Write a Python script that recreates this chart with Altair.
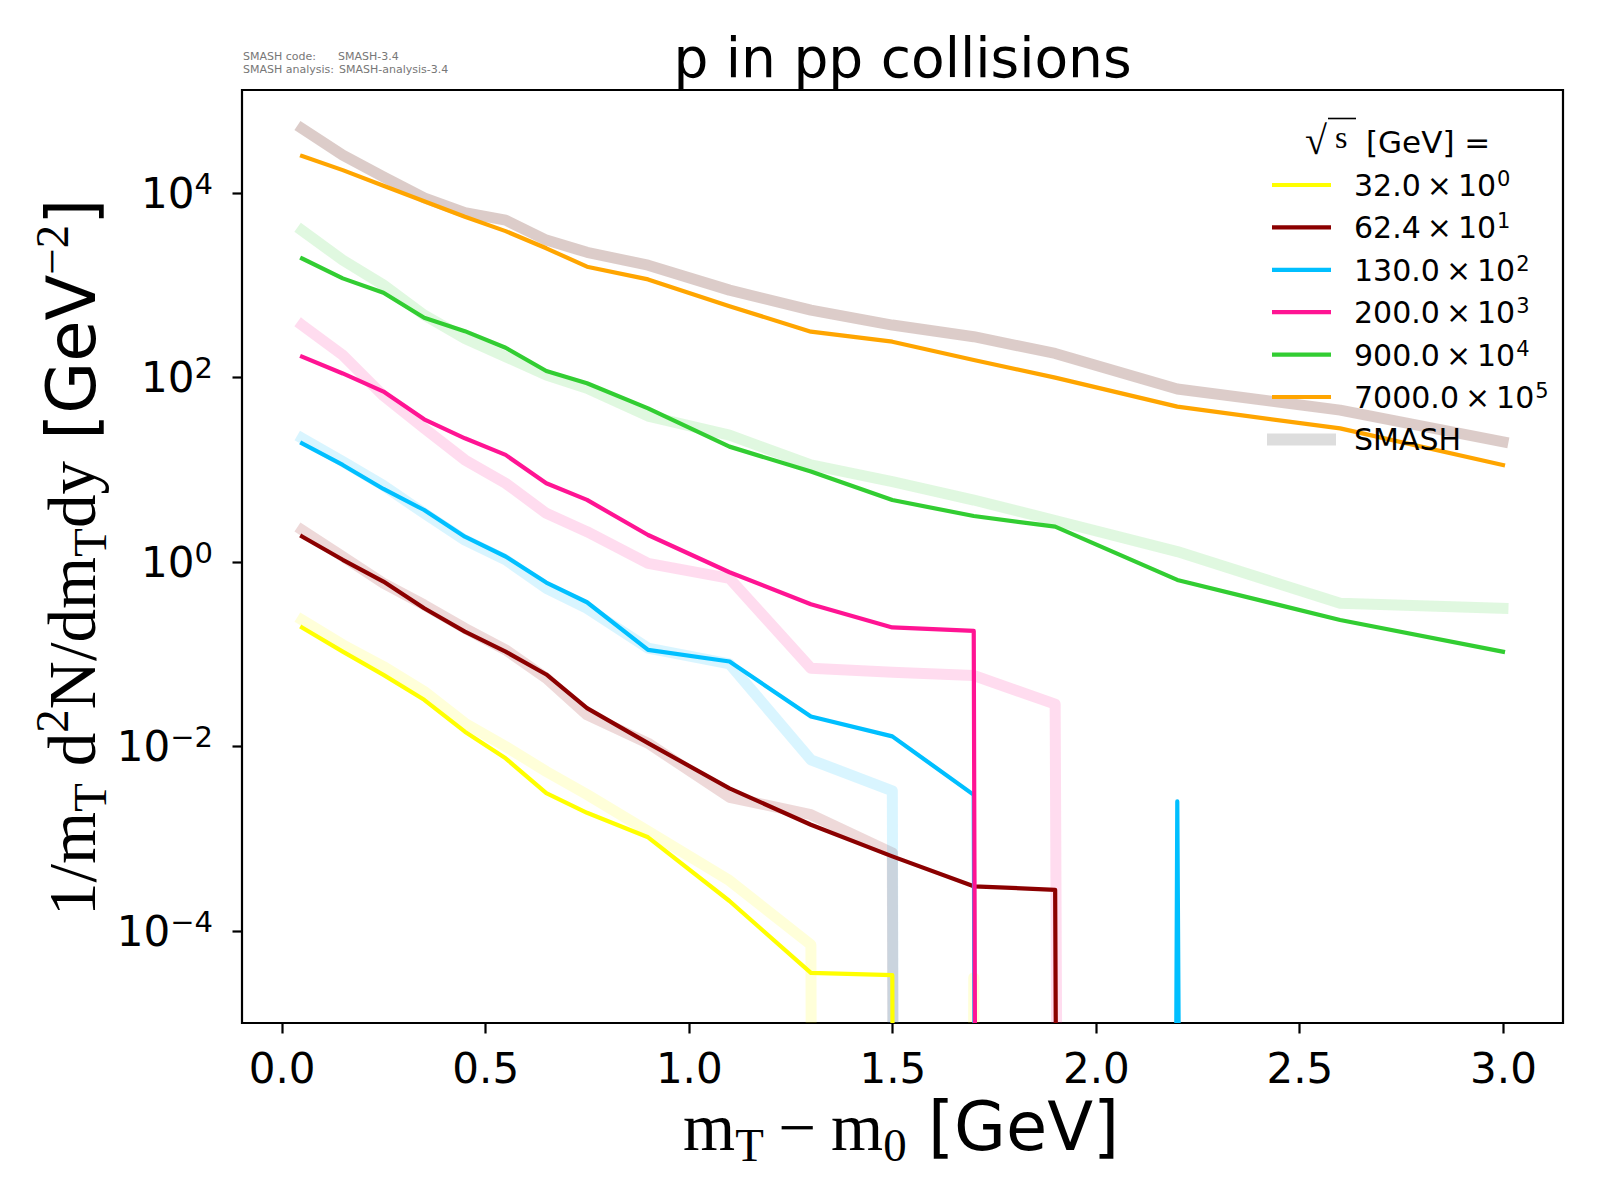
import altair as alt
import pandas as pd

# m_T - m_0 bin centres [GeV]
X = [0.05, 0.15, 0.25, 0.35, 0.45, 0.55, 0.65, 0.75, 0.9, 1.1, 1.3, 1.5, 1.7, 1.9, 2.2, 2.6, 3.0]

ENERGIES = ["32.0", "62.4", "130.0", "200.0", "900.0", "7000.0"]
SCALE_EXP = [0, 1, 2, 3, 4, 5]
COLORS = ["#ffff00", "#8b0000", "#00bfff", "#ff1493", "#32cd32", "#ffa500"]
SMASH_COLORS = ["#ffff00", "#8b0000", "#00bfff", "#ff1493", "#32cd32", "#8c564b"]
SMASH_ALPHA = [0.15, 0.15, 0.15, 0.15, 0.15, 0.3]

# experimental data (already multiplied by 10^k), 0 = no yield
DATA_32 = [0.194, 0.106, 0.0594, 0.0319, 0.0144, 0.0074, 0.0031, 0.0019, 0.00103, 0.00021, 3.5e-5, 3.3e-5, 0, 0, 0, 0, 0]
DATA_62 = [1.88, 1.05, 0.61, 0.313, 0.175, 0.106, 0.060, 0.0259, 0.0108, 0.0035, 0.00141, 0.00064, 0.000303, 0.000278, 0, 0, 0]
DATA_130 = [19.2, 11.2, 6.15, 3.64, 1.87, 1.14, 0.595, 0.364, 0.111, 0.083, 0.021, 0.0128, 0.00297, 0, 0.00252, 0, 0]
DATA_200 = [167, 110, 70, 35, 21.8, 14.4, 7.1, 4.68, 1.95, 0.77, 0.346, 0.194, 0.178, 0, 0, 0, 0]
DATA_900 = [1940, 1180, 825, 441, 316, 209, 117, 86, 46, 17.7, 9.5, 4.67, 3.13, 2.4, 0.635, 0.234, 0.106]
DATA_7000 = [25000, 17600, 11900, 8100, 5500, 3840, 2500, 1580, 1150, 590, 312, 243, 154, 99, 48, 27.9, 11.2]

# SMASH results
SMASH_32 = [0.234, 0.126, 0.0731, 0.0393, 0.0178, 0.00995, 0.00533, 0.0030, 0.0012, 0.00035, 7.05e-5, 0, 3.1e-5, 0, 0, 0, 0]
SMASH_62 = [2.21, 1.14, 0.585, 0.34, 0.19, 0.111, 0.0547, 0.0219, 0.0108, 0.0028, 0.00181, 0.000695, 0, 0, 0, 0, 0]
SMASH_130 = [21.8, 12.2, 6.7, 3.35, 1.72, 1.05, 0.516, 0.313, 0.116, 0.078, 0.00713, 0.00329, 0, 0, 0, 0, 0]
SMASH_200 = [368, 174, 63, 28, 12.7, 7.1, 3.35, 2.12, 0.96, 0.66, 0.070, 0.0635, 0.0585, 0.0286, 0, 0, 0]
SMASH_900 = [3900, 1860, 1000, 472, 264, 167, 106, 76, 38, 23.6, 11.2, 7.4, 4.67, 2.8, 1.29, 0.355, 0.313]
SMASH_7000 = [49700, 25600, 14900, 8800, 6100, 5050, 3070, 2260, 1640, 880, 535, 368, 275, 181, 74.5, 44, 20]

DATA = [DATA_32, DATA_62, DATA_130, DATA_200, DATA_900, DATA_7000]
SMASH = [SMASH_32, SMASH_62, SMASH_130, SMASH_200, SMASH_900, SMASH_7000]

X_TICKS = [0.0, 0.5, 1.0, 1.5, 2.0, 2.5, 3.0]
Y_TICKS = [1e-4, 1e-2, 1, 1e2, 1e4]
Y_EXP = ["−4", "−2", "0", "2", "4"]

W, H = 1321, 933
SERIF = "Liberation Serif"
SANS = "DejaVu Sans"

# rough advance widths (em) used to place the math-like pieces
EM = {
    SERIF: {"1": .5, "/": .278, "m": .778, "T": .611, "d": .5, "2": .5, "N": .722,
            "y": .5, "0": .5, "−": .564},
    SANS: {"[": .39, "G": .775, "e": .615, "V": .684, "]": .39, ".": .318, "×": .838,
           "\u2009": .2, "−": .838, **{d: .636 for d in "0123456789"}},
}


def width(s, font, size):
    return sum(EM[font][ch] for ch in s) * size


def clip_log(v):
    # like matplotlib's nonpositive="clip": send zeros far below the axis
    return v if v > 0 else 1e-300


tick_style = dict(grid=False, domain=False, tickSize=10, tickWidth=2.2, tickColor="black", title=None)
x_enc = alt.X(
    "x:Q",
    scale=alt.Scale(domain=[-0.0975, 3.1475], nice=False, zero=False),
    axis=alt.Axis(values=X_TICKS, format=".1f", labelFont=SANS, labelFontSize=42,
                  labelColor="black", labelPadding=16, labelFlush=False, labelOverlap=False,
                  **tick_style),
)
y_enc = alt.Y(
    "y:Q",
    scale=alt.Scale(type="log", domain=[1e-5, 1.3e5], nice=False),
    axis=alt.Axis(values=Y_TICKS, labels=False, **tick_style),
)

layers = []
for vals, c, a in zip(SMASH, SMASH_COLORS, SMASH_ALPHA):
    df = pd.DataFrame({"x": X, "y": [clip_log(v) for v in vals]})
    layers.append(
        alt.Chart(df).mark_line(clip=True, color=c, opacity=a, strokeWidth=11,
                                strokeJoin="round", strokeCap="square")
        .encode(x=x_enc, y=y_enc)
    )
for vals, c in zip(DATA, COLORS):
    df = pd.DataFrame({"x": X, "y": [clip_log(v) for v in vals]})
    layers.append(
        alt.Chart(df).mark_line(clip=True, color=c, strokeWidth=4.2,
                                strokeJoin="round", strokeCap="square")
        .encode(x=x_enc, y=y_enc)
    )

# ---- y tick labels 10^n with a real superscript ----
LAB_FS, EXP_FS, LAB_RIGHT = 42, 29, -29
ylab = pd.DataFrame({
    "y": Y_TICKS,
    "exp": Y_EXP,
    "ex": [LAB_RIGHT - width(e, SANS, EXP_FS) for e in Y_EXP],
})
layers.append(
    alt.Chart(ylab).mark_text(font=SANS, fontSize=LAB_FS, align="right", baseline="alphabetic",
                              dy=15, color="black", text="10")
    .encode(x=alt.X("ex:Q", scale=None), y=y_enc)
)
layers.append(
    alt.Chart(ylab).mark_text(font=SANS, fontSize=EXP_FS, align="left", baseline="alphabetic",
                              dy=1, color="black")
    .encode(x=alt.X("ex:Q", scale=None), y=y_enc, text="exp:N")
)


# ---- axis titles built from pieces (math-like sub/superscripts) ----
def run_layout(pieces, start, base, size, vertical):
    rows = []
    pos = start
    step = -1 if vertical else 1
    for text, font, rel, shift, gap in pieces:
        pos += step * gap * size
        fs = size * rel
        off = {"": 0, "sub": 0.16 * size, "sup": -0.4 * size}[shift]
        if vertical:
            rows.append(dict(text=text, font=font, fs=fs, px=base + off, py=pos, angle=270))
        else:
            rows.append(dict(text=text, font=font, fs=fs, px=pos, py=base + off, angle=0))
        pos += step * width(text, font, fs)
    return rows


YT = [("1/m", SERIF, 1, "", 0), ("T", SERIF, .7, "sub", 0), ("d", SERIF, 1, "", .25),
      ("2", SERIF, .7, "sup", 0), ("N/dm", SERIF, 1, "", 0), ("T", SERIF, .7, "sub", 0),
      ("dy", SERIF, 1, "", 0), ("[GeV", SANS, 1, "", .318), ("−2", SERIF, .7, "sup", 0),
      ("]", SANS, 1, "", 0)]
XT = [("m", SERIF, 1, "", 0), ("T", SERIF, .7, "sub", 0), ("−", SERIF, 1, "", .22),
      ("m", SERIF, 1, "", .22), ("0", SERIF, .7, "sub", 0), ("[GeV]", SANS, 1, "", .318)]

pieces_df = pd.DataFrame(run_layout(YT, 826, -147, 67, True) + run_layout(XT, 441, 1060, 67, False))
for f in [SERIF, SANS]:
    layers.append(
        alt.Chart(pieces_df[pieces_df["font"] == f])
        .mark_text(font=f, align="left", baseline="alphabetic", color="black")
        .encode(x=alt.X("px:Q", scale=None), y=alt.Y("py:Q", scale=None), text="text:N",
                size=alt.Size("fs:Q", scale=None), angle=alt.Angle("angle:Q", scale=None))
    )

# ---- title ----
layers.append(
    alt.Chart(pd.DataFrame({"text": ["p in pp collisions"]}))
    .mark_text(font=SANS, fontSize=55, align="center", baseline="alphabetic", color="black")
    .encode(x=alt.value(W / 2), y=alt.value(-13), text="text:N")
)

# ---- SMASH version stamp ----
stamp = pd.DataFrame({
    "text": ["SMASH code:", "SMASH-3.4", "SMASH analysis:", "SMASH-analysis-3.4"],
    "px": [1, 96, 1, 97], "py": [-33, -33, -20, -20],
})
layers.append(
    alt.Chart(stamp).mark_text(font=SANS, fontSize=11, align="left", baseline="middle", color="#777777")
    .encode(x=alt.X("px:Q", scale=None), y=alt.Y("py:Q", scale=None), text="text:N")
)

# ---- legend ----
row0, dy, LEG_FS, LEG_X = 95, 42.4, 30, 1112
leg_main = [f"{e}\u2009×\u200910" for e in ENERGIES]
leg_rules = pd.DataFrame({
    "x1": [1030] * 6 + [1025], "x2": [1089] * 6 + [1094],
    "y": [row0 + i * dy for i in range(7)],
    "color": COLORS + ["#dddddd"], "sw": [4.2] * 6 + [12],
})
leg_rules = pd.concat([leg_rules, pd.DataFrame({
    "x1": [1086], "x2": [1114], "y": [28.5], "color": ["black"], "sw": [1.6]})])
layers.append(
    alt.Chart(leg_rules).mark_rule(strokeCap="butt")
    .encode(x=alt.X("x1:Q", scale=None), x2="x2:Q", y=alt.Y("y:Q", scale=None),
            color=alt.Color("color:N", scale=None), strokeWidth=alt.StrokeWidth("sw:Q", scale=None))
)
leg_text = pd.DataFrame({
    "text": leg_main + ["SMASH", "[GeV] ="],
    "px": [LEG_X] * 7 + [1124],
    "py": [row0 + i * dy + 11 for i in range(7)] + [63],
    "fs": [LEG_FS] * 7 + [31],
})
leg_exp = pd.DataFrame({
    "text": [str(k) for k in SCALE_EXP],
    "px": [LEG_X + width(t, SANS, LEG_FS) + 1 for t in leg_main],
    "py": [row0 + i * dy + 1 for i in range(6)],
    "fs": [21] * 6,
})
layers.append(
    alt.Chart(pd.concat([leg_text, leg_exp]))
    .mark_text(font=SANS, align="left", baseline="alphabetic", color="black")
    .encode(x=alt.X("px:Q", scale=None), y=alt.Y("py:Q", scale=None), text="text:N",
            size=alt.Size("fs:Q", scale=None))
)
root = pd.DataFrame({"text": ["√", "s"], "px": [1063, 1093], "py": [64, 58], "fs": [40, 32]})
layers.append(
    alt.Chart(root).mark_text(font=SERIF, align="left", baseline="alphabetic", color="black")
    .encode(x=alt.X("px:Q", scale=None), y=alt.Y("py:Q", scale=None), text="text:N",
            size=alt.Size("fs:Q", scale=None))
)

chart = (
    alt.layer(*layers)
    .properties(width=W, height=H, autosize=alt.AutoSizeParams(type="none"),
                padding={"left": 234, "top": 82, "right": 20, "bottom": 150})
    .configure_view(stroke="black", strokeWidth=2.2)
)

chart.save("out.html", embed_options={"renderer": "svg", "actions": False})
